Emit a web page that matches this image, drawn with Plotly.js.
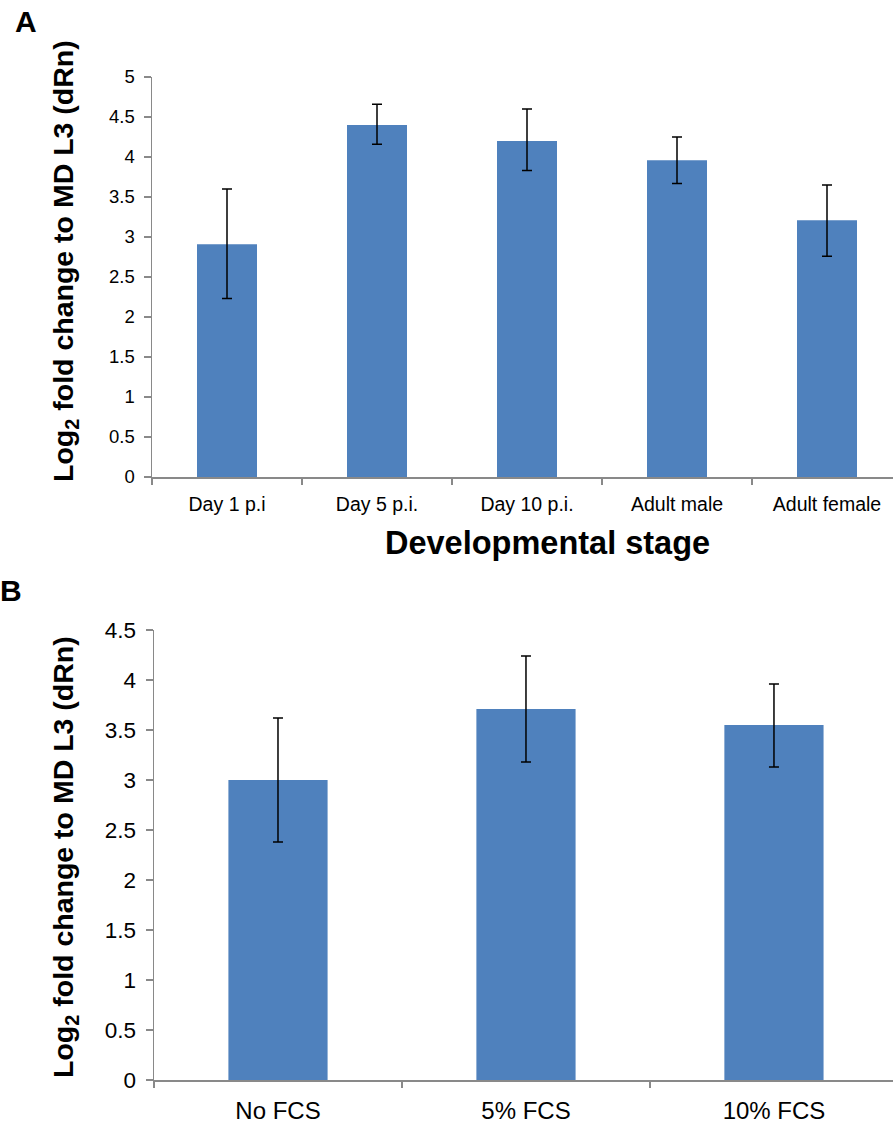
<!DOCTYPE html>
<html>
<head>
<meta charset="utf-8">
<script src="https://cdn.plot.ly/plotly-3.0.1.min.js"></script>
<style>html,body{margin:0;padding:0;background:#fff;}#chart{width:893px;height:1125px;}</style>
</head>
<body>
<div id="chart"></div>
<script>
// Panel A
const stagesA = ["Day 1 p.i", "Day 5 p.i.", "Day 10 p.i.", "Adult male", "Adult female"];
const meansA = [2.91, 4.40, 4.20, 3.96, 3.21];
const errPlusA = [0.69, 0.26, 0.40, 0.29, 0.44];
const errMinusA = [0.68, 0.24, 0.37, 0.29, 0.45];
// Panel B
const condB = ["No FCS", "5% FCS", "10% FCS"];
const meansB = [3.00, 3.71, 3.55];
const errPlusB = [0.62, 0.53, 0.41];
const errMinusB = [0.62, 0.53, 0.42];

const FONT = "Liberation Sans, Arial, Helvetica, sans-serif";
const W = 893, H = 1125;
const px = x => x / W;
const py = y => 1 - y / H;
const barColor = "#4F81BD";
const axisGray = "#898989";

const traces = [
  {
    type: "bar", x: stagesA, y: meansA, xaxis: "x", yaxis: "y",
    width: 0.4, marker: {color: barColor, line: {width: 0}},
    error_y: {type: "data", symmetric: false, array: errPlusA, arrayminus: errMinusA,
              color: "#000", thickness: 1.5, width: 5},
    hoverinfo: "skip"
  },
  {
    type: "bar", x: condB, y: meansB, xaxis: "x2", yaxis: "y2",
    width: 0.4, marker: {color: barColor, line: {width: 0}},
    error_y: {type: "data", symmetric: false, array: errPlusB, arrayminus: errMinusB,
              color: "#000", thickness: 1.5, width: 5},
    hoverinfo: "skip"
  }
];

const yCommon = {
  showline: true, linecolor: axisGray, linewidth: 1.5, showgrid: false, zeroline: false,
  ticks: "outside", ticklen: 7, tickcolor: axisGray, tickwidth: 1.5, dtick: 0.5, tick0: 0,
  ticklabelstandoff: 5, fixedrange: true
};
const xCommon = {
  type: "category", showline: true, linecolor: axisGray, linewidth: 1.5, showgrid: false,
  zeroline: false, ticks: "outside", ticklen: 6, tickcolor: axisGray, tickwidth: 1.5,
  tickson: "boundaries", ticklabelstandoff: 9, fixedrange: true
};

const titleFont = {family: FONT, size: 28.5, weight: "bold", color: "#000"};

const layout = {
  width: W, height: H,
  margin: {l: 0, r: 0, t: 0, b: 0},
  paper_bgcolor: "#fff", plot_bgcolor: "#fff",
  showlegend: false,
  font: {family: FONT, color: "#000"},
  xaxis: Object.assign({}, xCommon, {
    domain: [px(152), 1], anchor: "y", range: [-0.5, 4.44],
    tickfont: {family: FONT, size: 19.5, color: "#000"}
  }),
  yaxis: Object.assign({}, yCommon, {
    domain: [py(477), py(77)], anchor: "x", range: [0, 5],
    tickfont: {family: FONT, size: 18.5, color: "#000"}
  }),
  xaxis2: Object.assign({}, xCommon, {
    domain: [px(154), 1], anchor: "y2", range: [-0.5, 2.48],
    tickfont: {family: FONT, size: 24, color: "#000"}
  }),
  yaxis2: Object.assign({}, yCommon, {
    domain: [py(1080), py(630)], anchor: "x2", range: [0, 4.5],
    tickfont: {family: FONT, size: 22.5, color: "#000"}
  }),
  annotations: [
    {text: "A", x: px(26), y: py(22), xref: "paper", yref: "paper", showarrow: false,
     xanchor: "center", yanchor: "middle",
     font: {family: FONT, size: 30, weight: "bold", color: "#000"}},
    {text: "B", x: px(11), y: py(590), xref: "paper", yref: "paper", showarrow: false,
     xanchor: "center", yanchor: "middle",
     font: {family: FONT, size: 30, weight: "bold", color: "#000"}},
    {text: "Log<sub>2</sub> fold change to MD L3 (dRn)", x: px(65), y: py(261),
     xref: "paper", yref: "paper", showarrow: false, textangle: -90,
     xanchor: "center", yanchor: "middle", font: titleFont},
    {text: "Log<sub>2</sub> fold change to MD L3 (dRn)", x: px(65), y: py(857),
     xref: "paper", yref: "paper", showarrow: false, textangle: -90,
     xanchor: "center", yanchor: "middle", font: titleFont},
    {text: "Developmental stage", x: px(547), y: py(543), xref: "paper", yref: "paper",
     xanchor: "center", yanchor: "middle",
     showarrow: false, font: {family: FONT, size: 32.5, weight: "bold", color: "#000"}}
  ]
};

Plotly.newPlot("chart", traces, layout, {staticPlot: true, displayModeBar: false});
</script>
</body>
</html>
